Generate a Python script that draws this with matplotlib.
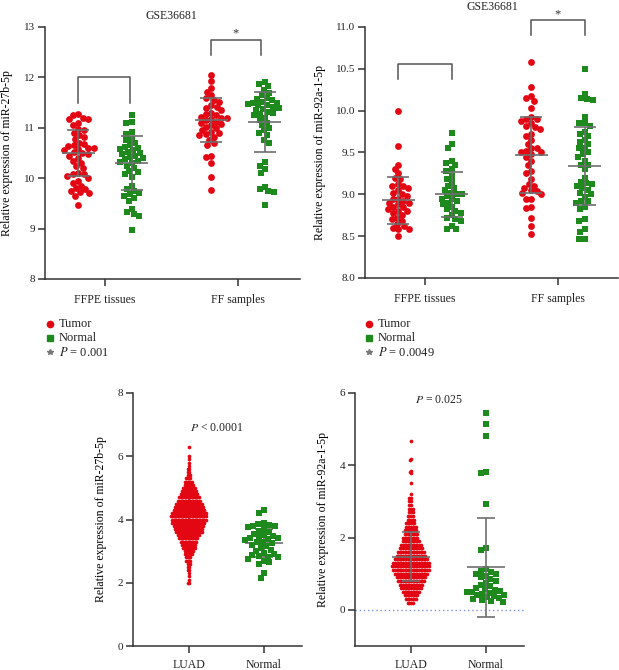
import numpy as np
import matplotlib
matplotlib.use("Agg")
import matplotlib.pyplot as plt
from matplotlib.lines import Line2D

plt.rcParams['font.family'] = ['Liberation Serif', 'DejaVu Serif']
plt.rcParams['mathtext.fontset'] = 'stix'

# ---------------- data ----------------
groups_top = ["FFPE tissues", "FF samples"]
groups_bot = ["LUAD", "Normal"]

# Panel A: miR-27b-5p (GSE36681)
a_ffpe_tumor = [11.27, 11.25, 11.2, 11.18, 11.17, 11.1, 11.05, 10.97, 10.95, 10.9, 10.85, 10.82,
                10.78, 10.7, 10.68, 10.65, 10.63, 10.6, 10.6, 10.58, 10.55, 10.52, 10.5, 10.48,
                10.45, 10.4, 10.35, 10.3, 10.25, 10.2, 10.1, 10.08, 10.08, 10.05, 10.0, 9.95,
                9.9, 9.85, 9.8, 9.78, 9.75, 9.72, 9.7, 9.65, 9.47]
a_ffpe_normal = [11.25, 11.12, 11.1, 10.92, 10.88, 10.78, 10.75, 10.7, 10.65, 10.62, 10.6, 10.58,
                 10.55, 10.52, 10.5, 10.48, 10.45, 10.42, 10.4, 10.38, 10.35, 10.33, 10.3, 10.25,
                 10.2, 10.15, 10.12, 10.08, 10.02, 9.85, 9.78, 9.75, 9.7, 9.68, 9.65, 9.6, 9.55,
                 9.38, 9.32, 9.28, 9.25, 8.97]
a_ff_tumor = [12.05, 11.92, 11.78, 11.72, 11.65, 11.6, 11.55, 11.52, 11.45, 11.42, 11.4, 11.35,
              11.3, 11.28, 11.25, 11.22, 11.2, 11.2, 11.18, 11.15, 11.12, 11.1, 11.08, 11.05,
              11.02, 11.0, 10.95, 10.92, 10.9, 10.88, 10.85, 10.82, 10.75, 10.7, 10.65, 10.45,
              10.42, 10.3, 10.03, 9.77]
a_ff_normal = [11.9, 11.87, 11.82, 11.75, 11.7, 11.65, 11.6, 11.58, 11.55, 11.52, 11.5, 11.5,
               11.48, 11.45, 11.45, 11.42, 11.4, 11.38, 11.35, 11.32, 11.3, 11.28, 11.25, 11.2,
               11.15, 11.1, 11.05, 11.0, 10.95, 10.9, 10.85, 10.75, 10.7, 10.32, 10.25, 10.18,
               10.1, 9.83, 9.78, 9.75, 9.72, 9.47]
a_mean = [10.5, 10.3, 11.15, 11.11]      # FFPE T, FFPE N, FF T, FF N
a_sd = [0.45, 0.54, 0.44, 0.60]
a_p = "0.001"

# Panel B: miR-92a-1-5p (GSE36681)
b_ffpe_tumor = [10.0, 9.58, 9.35, 9.3, 9.25, 9.2, 9.18, 9.12, 9.1, 9.1, 9.08, 9.05, 9.02, 9.0,
                8.98, 8.95, 8.95, 8.92, 8.9, 8.9, 8.88, 8.85, 8.85, 8.82, 8.8, 8.8, 8.78, 8.75,
                8.72, 8.7, 8.68, 8.65, 8.62, 8.6, 8.58, 8.58, 8.5]
b_ffpe_normal = [9.73, 9.6, 9.55, 9.4, 9.38, 9.35, 9.3, 9.28, 9.22, 9.18, 9.15, 9.1, 9.08, 9.05,
                 9.02, 9.0, 9.0, 8.98, 8.95, 8.95, 8.92, 8.9, 8.88, 8.85, 8.82, 8.8, 8.78, 8.75,
                 8.72, 8.7, 8.68, 8.62, 8.58, 8.58]
b_ff_tumor = [10.58, 10.28, 10.18, 10.15, 10.12, 10.03, 9.92, 9.9, 9.9, 9.88, 9.85, 9.82, 9.8,
              9.78, 9.72, 9.7, 9.65, 9.6, 9.55, 9.55, 9.52, 9.5, 9.5, 9.48, 9.45, 9.4, 9.35,
              9.28, 9.25, 9.18, 9.12, 9.1, 9.08, 9.05, 9.04, 9.02, 9.0, 8.95, 8.95, 8.85, 8.84,
              8.72, 8.62, 8.52]
b_ff_normal = [10.5, 10.2, 10.15, 10.14, 10.13, 9.93, 9.85, 9.85, 9.82, 9.75, 9.72, 9.7, 9.65,
               9.62, 9.6, 9.55, 9.55, 9.5, 9.48, 9.45, 9.4, 9.35, 9.35, 9.3, 9.2, 9.15, 9.13,
               9.12, 9.1, 9.08, 9.05, 9.02, 9.0, 8.97, 8.92, 8.92, 8.9, 8.85, 8.82, 8.7, 8.68,
               8.58, 8.55, 8.47, 8.47]
b_mean = [8.93, 9.0, 9.47, 9.34]
b_sd = [0.28, 0.27, 0.45, 0.47]
b_p = "0.0049"

# Panel C: miR-27b-5p, LUAD (value bins and counts) vs Normal
c_luad_vals = [2.0, 2.1, 2.2, 2.3, 2.4, 2.5, 2.6, 2.7, 2.8, 2.9, 3.0, 3.1, 3.2, 3.3, 3.4, 3.5,
               3.6, 3.7, 3.8, 3.9, 4.0, 4.1, 4.2, 4.3, 4.4, 4.5, 4.6, 4.7, 4.8, 4.9, 5.0, 5.1,
               5.2, 5.3, 5.4, 5.5, 5.6, 5.7, 5.8, 5.9, 6.0, 6.3]
c_luad_counts = [2, 1, 1, 1, 2, 2, 3, 4, 4, 6, 7, 9, 10, 12, 14, 16,
                 19, 20, 22, 24, 25, 26, 25, 23, 21, 19, 17, 15, 13, 11, 9, 7,
                 6, 4, 3, 2, 2, 1, 1, 1, 1, 1]
c_normal = [4.3, 4.22, 3.88, 3.85, 3.82, 3.8, 3.78, 3.75, 3.7, 3.65, 3.6, 3.55, 3.5, 3.48, 3.45,
            3.42, 3.4, 3.38, 3.35, 3.3, 3.28, 3.25, 3.2, 3.15, 3.1, 3.05, 3.0, 2.95, 2.9, 2.88,
            2.85, 2.82, 2.8, 2.75, 2.7, 2.65, 2.6, 2.3, 2.15]
c_mean = [4.08, 3.26]
c_sd = [0.65, 0.45]
c_p = "< 0.0001"

# Panel D: miR-92a-1-5p, LUAD (value bins and counts) vs Normal
d_luad_vals = [0.2, 0.3, 0.4, 0.5, 0.6, 0.7, 0.8, 0.9, 1.0, 1.1, 1.2, 1.3, 1.4, 1.5, 1.6, 1.7,
               1.8, 1.9, 2.0, 2.1, 2.2, 2.3, 2.4, 2.5, 2.6, 2.7, 2.8, 2.9, 3.0, 3.1, 3.2,
               3.5, 3.78, 3.82, 3.85, 4.15, 4.18, 4.68]
d_luad_counts = [4, 7, 9, 11, 13, 15, 17, 19, 21, 23, 24, 23, 21, 19, 17, 15,
                 13, 11, 10, 9, 8, 7, 6, 5, 4, 3, 3, 2, 2, 2, 1,
                 1, 1, 1, 1, 1, 1, 1]
d_normal = [5.45, 5.15, 4.82, 3.82, 3.78, 2.92, 1.7, 1.65, 1.12, 1.08, 1.05, 1.0, 0.98, 0.95,
            0.9, 0.85, 0.8, 0.75, 0.7, 0.65, 0.6, 0.58, 0.55, 0.52, 0.5, 0.5, 0.48, 0.45, 0.42,
            0.4, 0.38, 0.35, 0.32, 0.3, 0.28, 0.25, 0.22]
d_mean = [1.47, 1.18]
d_sd = [0.68, 1.37]
d_p = "= 0.025"

RED = "#e30613"
GREEN = "#1e8a1e"
GRAY = "#6e6e6e"
AXC = "#333333"

W, H = 619, 670
fig = plt.figure(figsize=(W / 100, H / 100), dpi=100)


def add_axes(l, r, t, b):
    return fig.add_axes([l / W, 1 - b / H, (r - l) / W, (b - t) / H])


def style(ax):
    for s in ["top", "right"]:
        ax.spines[s].set_visible(False)
    for s in ["left", "bottom"]:
        ax.spines[s].set_color(AXC)
        ax.spines[s].set_linewidth(1.1)
    ax.tick_params(direction="out", length=5, width=1.1, color=AXC, labelsize=8,
                   labelcolor="#222222", pad=2)


def swarm(vals, ax, d_px):
    vals = np.asarray(vals, float)
    pos = ax.get_position()
    y0, y1 = ax.get_ylim()
    ppu_y = pos.height * H / (y1 - y0)
    x0, x1 = ax.get_xlim()
    ppu_x = pos.width * W / (x1 - x0)
    ypx = vals * ppu_y
    order = np.argsort(-vals, kind="stable")
    xs = np.zeros(len(vals))
    px, py = [], []
    for i in order:
        y = ypx[i]
        iv = []
        for xj, yj in zip(px, py):
            dy = abs(y - yj)
            if dy < d_px:
                dx = np.sqrt(d_px ** 2 - dy ** 2)
                iv.append((xj - dx, xj + dx))
        cands = [0.0] + [a for a, b in iv] + [b for a, b in iv]
        cands.sort(key=lambda c: (abs(c), c))
        for c in cands:
            if all(not (a + 1e-6 < c < b - 1e-6) for a, b in iv):
                xs[i] = c
                break
        px.append(xs[i])
        py.append(y)
    return xs / ppu_x


def errbar(ax, x, m, s, half_m, half_c, z):
    kw = dict(color=GRAY, lw=1.2, zorder=z, solid_capstyle="butt")
    ax.plot([x, x], [m - s, m + s], **kw)
    ax.plot([x - half_m, x + half_m], [m, m], **kw)
    ax.plot([x - half_c, x + half_c], [m + s, m + s], **kw)
    ax.plot([x - half_c, x + half_c], [m - s, m - s], **kw)


def bracket(ax, x0, x1, top, leg):
    ax.plot([x0, x0, x1, x1], [leg, top, top, leg], color="#555555", lw=1.1,
            clip_on=False, zorder=5)


def legend(xm, xt, ys, p):
    fig.add_artist(Line2D([xm / W], [1 - ys[0] / H], marker="o", ms=4.5, color=RED, ls=""))
    fig.add_artist(Line2D([xm / W], [1 - ys[1] / H], marker="s", ms=4, color=GREEN, ls=""))
    fig.add_artist(Line2D([xm / W], [1 - ys[2] / H], marker="*", ms=4, color="#777777", ls=""))
    fig.text(xt / W, 1 - ys[0] / H, "Tumor", fontsize=9, va="center", color="#222222")
    fig.text(xt / W, 1 - ys[1] / H, "Normal", fontsize=9, va="center", color="#222222")
    fig.text(xt / W, 1 - ys[2] / H, "$P$ = " + p, fontsize=9, va="center", color="#222222")


off = 0.2

# ---------------- Panel A ----------------
axA = add_axes(45, 300, 27, 279)
axA.set_xlim((45 - 105) / 133, (300 - 105) / 133)
axA.set_ylim(8, 13)
style(axA)
axA.set_xticks([0, 1])
axA.set_xticklabels(groups_top, fontsize=8.5)
axA.set_yticks([8, 9, 10, 11, 12, 13])
axA.tick_params(axis="x", pad=6)
axA.set_ylabel("Relative expression of miR-27b-5p", fontsize=8.5, labelpad=8)
seriesA = [(a_ffpe_tumor, -off, "o", RED, 24), (a_ffpe_normal, off, "s", GREEN, 20),
           (a_ff_tumor, 1 - off, "o", RED, 24), (a_ff_normal, 1 + off, "s", GREEN, 20)]
for k, (v, xc, mk, col, s) in enumerate(seriesA):
    xs = swarm(v, axA, 5.6)
    axA.scatter(xc + xs, v, marker=mk, s=s, color=col, linewidths=0, zorder=3, clip_on=False)
    errbar(axA, xc, a_mean[k], a_sd[k], 0.125, 0.083, 4)
bracket(axA, -0.203, 0.188, 12.0, 11.5)
bracket(axA, 0.8, 1.17, 12.75, 12.45)
axA.text(0.985, 12.87, "*", ha="center", va="center", fontsize=9, color="#333333")
axA.set_title("GSE36681", fontsize=8.5, pad=6, color="#222222")
axA.title.set_position(((171 - 45) / 255, 1))
legend(50, 59, [324, 338, 352], a_p)

# ---------------- Panel B ----------------
axB = add_axes(365, 618, 27, 278)
axB.set_xlim((365 - 425) / 133, (618 - 425) / 133)
axB.set_ylim(8, 11)
style(axB)
axB.set_xticks([0, 1])
axB.set_xticklabels(groups_top, fontsize=8.5)
axB.set_yticks([8, 8.5, 9, 9.5, 10, 10.5, 11])
axB.set_yticklabels(["%.1f" % t for t in [8, 8.5, 9, 9.5, 10, 10.5, 11]])
axB.tick_params(axis="x", pad=6)
axB.set_ylabel("Relative expression of miR-92a-1-5p", fontsize=8.5, labelpad=7)
seriesB = [(b_ffpe_tumor, -off, "o", RED, 24), (b_ffpe_normal, off, "s", GREEN, 20),
           (b_ff_tumor, 1 - off, "o", RED, 24), (b_ff_normal, 1 + off, "s", GREEN, 20)]
for k, (v, xc, mk, col, s) in enumerate(seriesB):
    xs = swarm(v, axB, 5.6)
    axB.scatter(xc + xs, v, marker=mk, s=s, color=col, linewidths=0, zorder=3, clip_on=False)
    errbar(axB, xc, b_mean[k], b_sd[k], 0.125, 0.083, 4)
bracket(axB, -0.203, 0.203, 10.56, 10.38)
bracket(axB, 0.8, 1.2, 11.08, 10.9)
axB.text(1.0, 11.155, "*", ha="center", va="center", fontsize=9, color="#333333", clip_on=False)
fig.text(492 / W, 1 - 7 / H, "GSE36681", fontsize=8.5, ha="center", va="center", color="#222222")
legend(369, 378, [324, 338, 352], b_p)

# ---------------- Panel C ----------------
axC = add_axes(133, 302, 393, 646)
axC.set_xlim((133 - 189) / 75, (302 - 189) / 75)
axC.set_ylim(0, 8)
style(axC)
axC.set_xticks([0, 1])
axC.set_xticklabels(groups_bot, fontsize=8.5)
axC.set_yticks([0, 2, 4, 6, 8])
axC.tick_params(axis="x", pad=4)
axC.set_ylabel("Relative expression of miR-27b-5p", fontsize=8.5, labelpad=8)
c_luad = np.repeat(c_luad_vals, c_luad_counts)
errbar(axC, 0, c_mean[0], c_sd[0], 0.25, 0.12, 1)
errbar(axC, 1, c_mean[1], c_sd[1], 0.25, 0.12, 1)
xs = swarm(c_luad, axC, 1.4)
axC.scatter(xs, c_luad, marker="o", s=7, color=RED, linewidths=0, zorder=3)
xs = swarm(c_normal, axC, 5.6)
axC.scatter(1 + xs, c_normal, marker="s", s=20, color=GREEN, linewidths=0, zorder=3)
axC.text((217 - 189) / 75, 6.9, "$P$ < 0.0001", fontsize=8.5, ha="center",
         va="center", color="#222222")

# ---------------- Panel D ----------------
axD = add_axes(355, 524, 393, 646)
axD.set_xlim((355 - 411) / 75, (524 - 411) / 75)
axD.set_ylim(-1, 6)
style(axD)
axD.set_xticks([0, 1])
axD.set_xticklabels(groups_bot, fontsize=8.5)
axD.set_yticks([0, 2, 4, 6])
axD.tick_params(axis="x", pad=4)
axD.set_ylabel("Relative expression of miR-92a-1-5p", fontsize=8.5, labelpad=8)
axD.axhline(0, color="#7f8fe0", lw=1.0, ls=(0, (1, 2)), zorder=1)
d_luad = np.repeat(d_luad_vals, d_luad_counts)
xs = swarm(d_luad, axD, 1.6)
axD.scatter(xs, d_luad, marker="o", s=7, color=RED, linewidths=0, zorder=3)
xs = swarm(d_normal, axD, 5.6)
axD.scatter(1 + xs, d_normal, marker="s", s=20, color=GREEN, linewidths=0, zorder=3)
errbar(axD, 0, d_mean[0], d_sd[0], 0.25, 0.12, 4)
errbar(axD, 1, d_mean[1], d_sd[1], 0.25, 0.12, 4)
axD.text((439 - 411) / 75, 5.8, "$P$ = 0.025", fontsize=8.5, ha="center", va="center",
         color="#222222")

fig.savefig("out.png", dpi=100)
